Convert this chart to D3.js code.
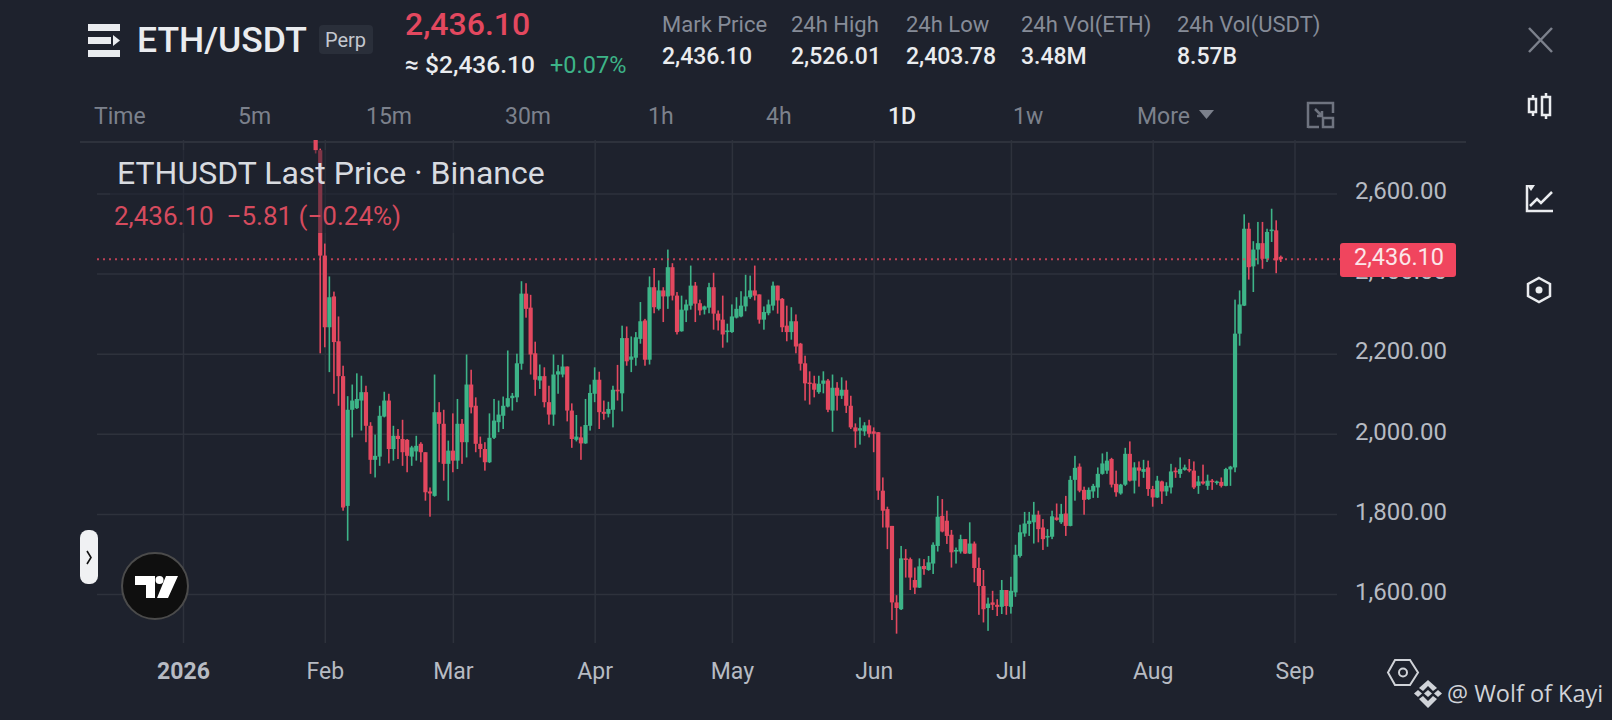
<!DOCTYPE html>
<html lang="en">
<head>
<meta charset="UTF-8">
<title>ETHUSDT 1D</title>
<script src="https://cdn.jsdelivr.net/npm/d3@7"></script>
<style>
  html, body { margin: 0; padding: 0; background: #1e222d; overflow: hidden; }
  svg { display: block; }
  text { font-family: Roboto, sans-serif; }
</style>
</head>
<body>
<script>
'use strict';

var firstDay = '2026-01-30';

var opens = [
  2780,2708,2445,2266,2343,2231,2144,1820,2060,2064,
  2083,2104,2020,1935,1943,2043,2083,1962,1995,1987,
  1985,1943,1956,1975,1954,1856,1845,2054,2025,1925,
  1958,1933,2025,1979,2123,2070,1975,1962,1929,1990,
  2029,2045,2068,2089,2091,2175,2350,2315,2201,2133,
  2144,2079,2048,2148,2148,2168,2058,1985,1991,1976,
  2020,2100,2135,2055,2050,2060,2110,2101,2239,2185,
  2190,2237,2283,2185,2366,2312,2358,2343,2416,2345,
  2256,2308,2320,2370,2326,2310,2315,2366,2300,2285,
  2254,2254,2290,2293,2318,2341,2358,2348,2285,2301,
  2320,2370,2337,2270,2254,2281,2225,2176,2128,2126,
  2104,2125,2133,2058,2115,2095,2110,2070,2016,2008,
  2006,2021,2006,2004,1858,1812,1770,1579,1562,1689,
  1687,1635,1616,1670,1660,1676,1720,1795,1783,1748,
  1706,1706,1737,1701,1726,1665,1620,1565,1579,1573,
  1568,1610,1568,1604,1695,1751,1775,1779,1798,1766,
  1741,1743,1791,1779,1801,1770,1885,1918,1860,1837,
  1856,1866,1900,1908,1937,1875,1851,1873,1950,1883,
  1916,1905,1916,1862,1841,1881,1856,1866,1908,1900,
  1910,1912,1908,1870,1881,1870,1883,1879,1880,1870,
  1911,1916,2250,2320,2512,2418,2460,2476,2437,2506,2508,2441.9
];
var closes = [
  2708,2445,2266,2341,2229,2144,1816,2060,2083,2087,
  2104,2020,1935,1945,2045,2083,1962,1995,1987,1954,
  1945,1966,1970,1954,1854,1851,2054,2025,1925,1958,
  1933,2025,1979,2123,2066,1975,1962,1929,1990,2033,
  2048,2070,2089,2095,2176,2350,2312,2198,2135,2144,
  2079,2048,2148,2156,2168,2058,1987,1993,1976,2022,
  2102,2135,2054,2050,2062,2110,2106,2239,2181,2193,
  2241,2281,2185,2366,2316,2358,2343,2416,2345,2254,
  2310,2323,2370,2325,2308,2318,2366,2300,2283,2248,
  2258,2293,2312,2320,2343,2358,2345,2285,2304,2323,
  2370,2333,2266,2254,2281,2218,2175,2126,2125,2110,
  2125,2133,2060,2115,2095,2110,2070,2016,2006,2014,
  2021,2000,2000,1858,1808,1766,1579,1565,1689,1685,
  1641,1616,1669,1662,1679,1723,1793,1756,1745,1704,
  1710,1737,1701,1726,1665,1620,1562,1576,1573,1568,
  1610,1570,1608,1698,1754,1776,1783,1798,1762,1737,
  1745,1794,1785,1800,1770,1885,1915,1858,1835,1860,
  1870,1900,1926,1933,1873,1854,1873,1950,1883,1916,
  1908,1912,1862,1841,1883,1856,1870,1906,1904,1912,
  1916,1908,1866,1881,1876,1883,1880,1881,1870,1912,
  1918,2250,2323,2512,2416,2460,2476,2437,2504,2510,2433,2436.1
];
var highs = [
  2790,2712,2475,2393,2355,2293,2170,2094,2123,2151,
  2145,2120,2029,1998,2070,2105,2100,2020,2012,2035,
  1987,1970,1995,1979,1954,1866,2148,2079,2060,1983,
  2051,2087,2037,2198,2160,2091,1993,1979,2051,2087,
  2083,2093,2208,2102,2200,2381,2376,2347,2230,2173,
  2166,2120,2198,2172,2198,2168,2076,2047,2018,2087,
  2123,2166,2155,2083,2080,2120,2172,2270,2268,2243,
  2254,2329,2287,2393,2414,2383,2366,2460,2426,2354,
  2345,2335,2420,2379,2335,2320,2377,2402,2308,2345,
  2275,2323,2341,2356,2397,2395,2420,2348,2318,2335,
  2380,2370,2339,2320,2316,2298,2227,2195,2156,2145,
  2145,2156,2137,2148,2129,2141,2133,2095,2026,2041,
  2029,2035,2016,2004,1891,1818,1770,1597,1720,1712,
  1691,1666,1689,1687,1695,1729,1845,1837,1808,1760,
  1716,1748,1737,1779,1731,1691,1660,1591,1608,1587,
  1635,1610,1643,1723,1773,1805,1805,1830,1808,1787,
  1762,1808,1826,1825,1845,1895,1945,1926,1868,1866,
  1875,1916,1951,1955,1940,1908,1875,1965,1981,1929,
  1931,1935,1933,1870,1895,1883,1879,1925,1916,1941,
  1923,1937,1931,1895,1923,1898,1887,1883,1891,1915,
  1920,2335,2358,2548,2527,2481,2529,2529,2512,2562,2533,2445
];
var lows = [
  2700,2201,2216,2154,2100,2070,1808,1733,1991,2062,
  2008,1979,1900,1891,1920,2041,1926,1933,1937,1920,
  1904,1920,1933,1929,1833,1793,1843,1929,1883,1833,
  1904,1912,1925,1941,2051,1954,1941,1908,1927,1987,
  2004,2012,2066,2058,2079,2160,2290,2148,2095,2112,
  2066,2023,2020,2100,2141,2031,1965,1981,1935,1975,
  2008,2079,2012,2035,2041,2016,2083,2056,2170,2154,
  2170,2225,2170,2173,2301,2308,2279,2312,2333,2248,
  2255,2279,2310,2279,2296,2298,2301,2260,2258,2215,
  2228,2252,2288,2291,2306,2337,2333,2275,2260,2296,
  2308,2300,2254,2231,2235,2201,2158,2083,2073,2091,
  2100,2101,2054,2005,2058,2087,2052,2012,1965,1973,
  1995,1991,1954,1835,1766,1712,1535,1501,1560,1641,
  1610,1600,1615,1648,1658,1650,1706,1754,1725,1666,
  1676,1701,1700,1700,1629,1548,1529,1508,1560,1545,
  1550,1548,1551,1593,1691,1743,1745,1726,1729,1710,
  1718,1737,1783,1775,1745,1769,1833,1854,1798,1835,
  1840,1840,1898,1900,1866,1843,1848,1870,1881,1851,
  1868,1890,1845,1818,1840,1825,1845,1851,1890,1890,
  1908,1904,1862,1850,1873,1860,1860,1873,1866,1869,
  1870,1904,2220,2319,2385,2354,2423,2412,2429,2479,2401,2429
];

var priceTicks = [1600, 1800, 2000, 2200, 2400, 2600];
var monthTicks = ['2026-01-01','2026-02-01','2026-03-01','2026-04-01','2026-05-01','2026-06-01','2026-07-01','2026-08-01','2026-09-01'];
var monthLabels = ['2026','Feb','Mar','Apr','May','Jun','Jul','Aug','Sep'];
var lastPrice = 2436.10;

var intervals = ['Time','5m','15m','30m','1h','4h','1D','1w','More'];
var intervalX = [94,238,366,505,648,766,888,1013,1137];
var statNames = ['Mark Price','24h High','24h Low','24h Vol(ETH)','24h Vol(USDT)'];
var statValues = ['2,436.10','2,526.01','2,403.78','3.48M','8.57B'];
var statX = [662,791,906,1021,1177];

var w = 1612, h = 720;
var bg = '#1e222d', gridCol = '#2e323c';
var upCol = '#3db488', downCol = '#e3485f';

var parse = d3.utcParse('%Y-%m-%d');
var days = d3.utcDay.range(parse(firstDay), d3.utcDay.offset(parse(firstDay), opens.length));

var x = d3.scaleUtc().domain([parse(monthTicks[0]), parse(monthTicks[8])]).range([183, 1294.5]);
var y = d3.scaleLinear().domain([1600, 2600]).range([594, 193.5]);

var svg = d3.select('body').append('svg').attr('width', w).attr('height', h);
svg.append('rect').attr('width', w).attr('height', h).attr('fill', bg);

svg.append('defs').append('clipPath').attr('id', 'pane')
  .append('rect').attr('x', 97).attr('y', 140).attr('width', 1240).attr('height', 503);

// header
function label(txt, px, py, size, col, weight) {
  return svg.append('text').attr('x', px).attr('y', py).attr('font-size', size)
    .attr('fill', col).attr('font-weight', weight || 400).text(txt);
}

var menu = svg.append('g').attr('fill', '#eaecef');
menu.append('rect').attr('x', 88).attr('y', 24).attr('width', 32).attr('height', 7);
menu.append('rect').attr('x', 88).attr('y', 37).attr('width', 23).attr('height', 7);
menu.append('path').attr('d', 'M113,35L120,40.5L113,46Z');
menu.append('rect').attr('x', 88).attr('y', 50).attr('width', 32).attr('height', 7);

label('ETH/USDT', 137, 52, 35.5, '#eaecef', 500);
svg.append('rect').attr('x', 319).attr('y', 25).attr('width', 54).attr('height', 29).attr('rx', 4).attr('fill', '#2a2f3a');
label('Perp', 325, 47, 20, '#c4c8cf');
label('2,436.10', 405, 35, 32, downCol, 500);
label('≈ $2,436.10', 405, 73, 24.5, '#eaecef', 500);
label('+0.07%', 550, 73, 23.5, upCol);

statNames.forEach(function (d, i) {
  label(d, statX[i], 32, 22, '#868c98');
  label(statValues[i], statX[i], 64, 23, '#eaecef', 500);
});

intervals.forEach(function (d, i) {
  label(d, intervalX[i], 124, 23, d === '1D' ? '#eaecef' : '#7c818c', d === '1D' ? 500 : 400);
});
svg.append('path').attr('d', 'M1199,110L1214,110L1206.5,119Z').attr('fill', '#7c818c');

var resize = svg.append('g').attr('fill', 'none').attr('stroke', '#6f7480').attr('stroke-width', 2.5);
resize.append('path').attr('d', 'M1308,128L1308,103L1333,103L1333,113M1308,127L1319,127M1315,109L1322,116M1322,111L1322,116L1317,116');
resize.append('rect').attr('x', 1323).attr('y', 118).attr('width', 10).attr('height', 9);

svg.append('path').attr('d', 'M1529,28L1552,52M1552,28L1529,52').attr('stroke', '#7c818c').attr('stroke-width', 2.5);

// side tools
var side = svg.append('g').attr('fill', 'none').attr('stroke', '#eaecef').attr('stroke-width', 2.5);
side.append('path').attr('d', 'M1533,95L1533,99M1533,112L1533,116M1546,93L1546,97M1546,115L1546,119');
side.append('rect').attr('x', 1529).attr('y', 99).attr('width', 7).attr('height', 13);
side.append('rect').attr('x', 1542).attr('y', 97).attr('width', 8).attr('height', 18);
side.append('path').attr('d', 'M1527,185L1527,211L1553,211M1530,206L1537,199L1541,203L1552,192');
svg.append('path').attr('d', 'M1527,185L1535,185L1531,191Z').attr('fill', '#eaecef');
side.append('path').attr('d', 'M1539,278L1550,284L1550,296L1539,302L1528,296L1528,284Z');
svg.append('circle').attr('cx', 1539).attr('cy', 290).attr('r', 3.5).attr('fill', '#eaecef');

svg.append('line').attr('x1', 80).attr('x2', 1466).attr('y1', 142).attr('y2', 142)
  .attr('stroke', gridCol).attr('stroke-width', 2);

// axes with the grid drawn from the tick lines
var priceFmt = d3.format(',.2f');
var yAxis = d3.axisRight(y).tickValues(priceTicks).tickFormat(priceFmt).tickSize(-1240).tickPadding(18);
var gy = svg.append('g').attr('transform', 'translate(1337,0)').call(yAxis);
gy.select('.domain').remove();
gy.selectAll('line').attr('stroke', gridCol).attr('stroke-width', 1.5);
gy.selectAll('text').attr('fill', '#b7bbc3').attr('font-size', 24).attr('font-family', 'Roboto, sans-serif').attr('dy', '0.22em');

var xAxis = d3.axisBottom(x).tickValues(monthTicks.map(parse))
  .tickFormat(function (d, i) { return monthLabels[i]; }).tickSize(-503).tickPadding(20);
var gx = svg.append('g').attr('transform', 'translate(0,643)').call(xAxis);
gx.select('.domain').remove();
gx.selectAll('line').attr('stroke', gridCol).attr('stroke-width', 1.5);
gx.selectAll('text').attr('fill', '#b7bbc3').attr('font-size', 23).attr('font-family', 'Roboto, sans-serif')
  .attr('font-weight', function (d, i) { return i === 0 ? 700 : 400; });

// candles
var candles = svg.append('g').attr('clip-path', 'url(#pane)');
var rows = candles.selectAll('g').data(days).enter().append('g')
  .attr('fill', function (d, i) { return closes[i] >= opens[i] ? upCol : downCol; })
  .attr('stroke', 'none');
rows.append('rect')
  .attr('x', function (d) { return x(d) - 0.8; })
  .attr('width', 1.6)
  .attr('y', function (d, i) { return y(highs[i]); })
  .attr('height', function (d, i) { return y(lows[i]) - y(highs[i]); });
rows.append('rect')
  .attr('x', function (d) { return x(d) - 2.1; })
  .attr('width', 4.2)
  .attr('y', function (d, i) { return y(Math.max(opens[i], closes[i])); })
  .attr('height', function (d, i) { return Math.max(1.5, Math.abs(y(opens[i]) - y(closes[i]))); });

// legend sits on a see-through backdrop over the candles
svg.append('rect').attr('x', 110).attr('y', 150).attr('width', 440).attr('height', 83)
  .attr('fill', bg).attr('opacity', 0.5);
label('ETHUSDT Last Price · Binance', 117, 184, 32, '#d8dbe0');
label('2,436.10\u00a0\u00a0−5.81 (−0.24%)', 114, 225, 26, '#d64b5e');

// last price line and tag
svg.append('line').attr('x1', 97).attr('x2', 1340).attr('y1', y(lastPrice)).attr('y2', y(lastPrice))
  .attr('stroke', '#e3485f').attr('stroke-width', 2).attr('stroke-dasharray', '2,4').attr('opacity', 0.8);
svg.append('rect').attr('x', 1340).attr('y', 243).attr('width', 116).attr('height', 34).attr('rx', 3).attr('fill', '#f0455e');
svg.append('text').attr('x', 1399).attr('y', 265).attr('text-anchor', 'middle').attr('font-size', 23.5)
  .attr('fill', '#fbe6e9').text(priceFmt(lastPrice));

// left handle and tradingview badge
svg.append('rect').attr('x', 80).attr('y', 530).attr('width', 18).attr('height', 54).attr('rx', 8).attr('fill', '#f0f1f3');
svg.append('path').attr('d', 'M87,551L91,557.5L87,564').attr('fill', 'none').attr('stroke', '#111').attr('stroke-width', 1.6);
svg.append('circle').attr('cx', 155).attr('cy', 586).attr('r', 33).attr('fill', '#0f0f0f').attr('stroke', '#4b4b4b').attr('stroke-width', 2);
svg.append('path').attr('d', 'M135,576L155,576L155,598L146,598L146,585L135,585ZM166,576L178,576L168,598L157,598Z').attr('fill', '#fff');
svg.append('circle').attr('cx', 159.5).attr('cy', 580).attr('r', 4).attr('fill', '#fff');

// footer icons and watermark
svg.append('path').attr('d', 'M1395,660L1410,660L1418,672.5L1410,685L1395,685L1388,672.5Z')
  .attr('fill', 'none').attr('stroke', '#d0d3d8').attr('stroke-width', 2);
svg.append('circle').attr('cx', 1403).attr('cy', 672.5).attr('r', 4).attr('fill', 'none').attr('stroke', '#d0d3d8').attr('stroke-width', 2);
var bn = svg.append('g').attr('fill', '#d0d3d8');
bn.append('path').attr('d', 'M1428,680L1437,688L1433,691L1428,686L1423,691L1419,688Z');
bn.append('path').attr('d', 'M1428,708L1437,699L1433,696L1428,701L1423,696L1419,699Z');
bn.append('path').attr('d', 'M1428,690L1432,693.5L1428,697L1424,693.5Z');
bn.append('path').attr('d', 'M1418,690L1422,693.5L1418,697L1414,693.5Z');
bn.append('path').attr('d', 'M1438,690L1442,693.5L1438,697L1434,693.5Z');
svg.append('text').attr('x', 1447).attr('y', 702).attr('font-size', 23.5).attr('fill', '#d0d3d8')
  .style('font-family', '"Open Sans", sans-serif').text('@ Wolf of Kayi');
</script>
</body>
</html>
